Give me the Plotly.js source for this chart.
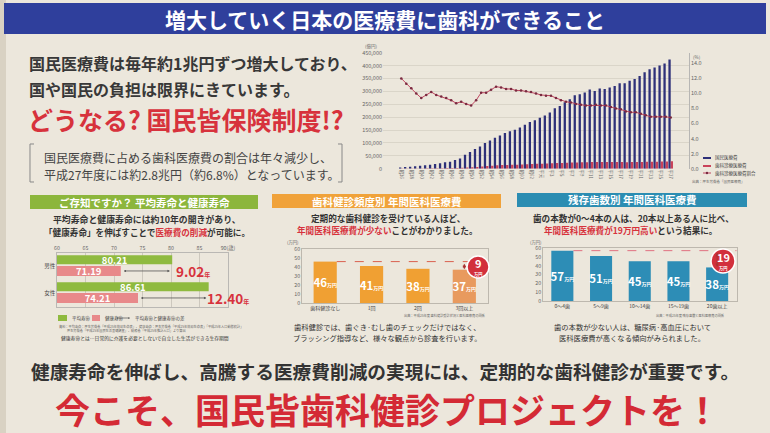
<!DOCTYPE html>
<html><head><meta charset="utf-8">
<script src="https://cdn.plot.ly/plotly-3.0.1.min.js"></script>
<style>html,body{margin:0;padding:0;background:#ece7dc;}#chart{width:770px;height:433px;}</style>
</head><body><div id="chart"></div>
<script>
// ===== DATA =====
const yearLabels = ["昭36","昭37","昭38","昭39","昭40","昭41","昭42","昭43","昭44","昭45","昭46","昭47","昭48","昭49","昭50","昭51","昭52","昭53","昭54","昭55","昭56","昭57","昭58","昭59","昭60","昭61","昭62","昭63","平元","平2","平3","平4","平5","平6","平7","平8","平9","平10","平11","平12","平13","平14","平15","平16","平17","平18","平19","平20","平21","平22","平23","平24","平25","平26","平27"];
const nationalCost = [5130,6132,7541,9389,11224,13002,15116,18016,20780,24962,27250,33994,39496,53786,64779,76684,85686,100042,109510,119805,128709,138659,145438,150932,160159,170690,180759,187554,197290,206074,218260,234784,243631,257908,269577,284542,289149,295823,307019,301418,310998,309507,315375,321111,331289,331276,341360,348084,360067,374202,385850,392117,400610,408071,423644];
const dentalCost = [616,693,807,939,1055,1274,1542,1766,1995,2346,2480,2957,3515,4626,5441,6978,8654,10104,11499,13059,13901,14698,15416,15697,16657,17581,18437,18755,19334,19989,21171,22070,22170,22954,23723,24471,24578,24849,25790,25621,26124,25999,25861,25689,26172,25177,25602,26106,26285,26568,26624,27056,27642,28157,28808];
const dentalShare = [12.0,11.3,10.7,10.0,9.4,9.8,10.2,9.8,9.6,9.4,9.1,8.7,8.9,8.6,8.4,9.1,10.1,10.1,10.5,10.9,10.8,10.6,10.6,10.4,10.4,10.3,10.2,10.0,9.8,9.7,9.7,9.4,9.1,8.9,8.8,8.6,8.5,8.4,8.4,8.5,8.4,8.4,8.2,8.0,7.9,7.6,7.5,7.5,7.3,7.1,6.9,6.9,6.9,6.9,6.8];

const sexes = ["男性","女性"];
const lifeAvg = [80.21, 86.61];
const lifeHealthy = [71.19, 74.21];
const lifeTicks = [60,65,70,75,80,85,90];
const lifeTickText = ["60","65","70","75","80","85","90(歳)"];

const checkupCats = ["歯科健診なし","1回","2回","3回以上"];
const checkupCost = [46,41,38,37];

const teethCats = ["0〜4歯","5〜9歯","10〜14歯","15〜19歯","20歯以上"];
const teethCost = [57,51,45,45,38];

// ===== HELPERS =====
const F = '"Noto Sans CJK JP","Noto Sans",sans-serif';
const W = 770, H = 433;
const px = x => x / W, py = y => 1 - y / H;
const RED = '#d7323c';
function txt(x, y, text, size, color, bold, anchor, extra) {
  return Object.assign({xref:'paper', yref:'paper', x:px(x), y:py(y), text:text, showarrow:false,
    font:{family:F, size:size, color:color, weight: bold ? 700 : 400},
    xanchor: anchor || 'center', yanchor:'middle'}, extra || {});
}
function rect(x0, y0, x1, y1, fill, extra) {
  return Object.assign({type:'rect', xref:'paper', yref:'paper', x0:px(x0), x1:px(x1), y0:py(y1), y1:py(y0),
    fillcolor:fill, line:{width:0}, layer:'below'}, extra || {});
}
function circ(cx, cy, r, fill) {
  return {type:'circle', xref:'paper', yref:'paper', x0:px(cx-r), x1:px(cx+r), y0:py(cy+r), y1:py(cy-r),
    fillcolor:fill, line:{color:'#ffffff', width:1.5}, layer:'above'};
}
function hline(x0, x1, y, color, w) {
  return {type:'line', xref:'paper', yref:'paper', x0:px(x0), x1:px(x1), y0:py(y), y1:py(y), line:{color:color, width:w}};
}
function pathP(pts, color) {
  const d = pts.map((p,i)=> (i?'L ':'M ') + px(p[0]).toFixed(5) + ' ' + py(p[1]).toFixed(5)).join(' ');
  return {type:'path', xref:'paper', yref:'paper', path:d, line:{color:color, width:1}};
}
const unitSpan = "<span style='font-size:5px'>万円</span>";

// ===== TRACES =====
const traces = [
  {type:'bar', name:'国民医療費', x:yearLabels, y:nationalCost, xaxis:'x', yaxis:'y',
   marker:{color:'#2e3079'}, width:0.46, offset:-0.46, showlegend:false},
  {type:'bar', name:'歯科診療医療費', x:yearLabels, y:dentalCost, xaxis:'x', yaxis:'y',
   marker:{color:'#c9435a'}, width:0.46, offset:0, showlegend:false},
  {type:'scatter', name:'歯科診療医療費割合', x:yearLabels, y:dentalShare, xaxis:'x', yaxis:'y2',
   mode:'lines+markers', line:{color:'#c04660', width:1}, marker:{size:2.6, color:'#7a2a40'}, showlegend:false},

  {type:'bar', name:'平均寿命', orientation:'h', y:sexes, x:lifeAvg.map(v=>v-60), base:60,
   xaxis:'x2', yaxis:'y3', width:0.34, offset:-0.42, marker:{color:'#8fba3f'},
   text:lifeAvg.map(v=>v.toFixed(2)), textposition:'inside', insidetextanchor:'middle', constraintext:'none', textangle:0,
   textfont:{family:F, size:9.5, color:'#ffffff', weight:700}, showlegend:false},
  {type:'bar', name:'健康寿命', orientation:'h', y:sexes, x:lifeHealthy.map(v=>v-60), base:60,
   xaxis:'x2', yaxis:'y3', width:0.37, offset:-0.02, marker:{color:'#e8898a'},
   text:lifeHealthy.map(v=>v.toFixed(2)), textposition:'inside', insidetextanchor:'middle', constraintext:'none', textangle:0,
   textfont:{family:F, size:9.5, color:'#ffffff', weight:700}, showlegend:false},

  {type:'bar', name:'年間医科医療費', x:checkupCats, y:checkupCost, xaxis:'x3', yaxis:'y4', width:0.5,
   marker:{color:['#f0a033','#f0a033','#f0a033','#e89a5e']},
   text:checkupCost.map(v=>v+unitSpan), textposition:'inside', insidetextanchor:'middle', textangle:0,
   constraintext:'none', textfont:{family:F, size:11.5, color:'#ffffff', weight:700}, showlegend:false},

  {type:'bar', name:'年間医科医療費', x:teethCats, y:teethCost, xaxis:'x4', yaxis:'y5', width:0.57,
   marker:{color:'#2d8db6'},
   text:teethCost.map(v=>v+unitSpan), textposition:'inside', insidetextanchor:'middle', textangle:0,
   constraintext:'none', textfont:{family:F, size:11.5, color:'#ffffff', weight:700}, showlegend:false}
];

// ===== AXES =====
const tf = s => ({family:F, size:s, color:'#666'});
const layout = {
  width:W, height:H, margin:{l:0,r:0,t:0,b:0}, showlegend:false,
  paper_bgcolor:'#ece7dc', plot_bgcolor:'rgba(0,0,0,0)', font:{family:F},
  xaxis:{domain:[px(383),px(689)], anchor:'y', type:'category', tickangle:90, tickfont:tf(4.3),
         showgrid:false, showline:false, ticks:'', fixedrange:true},
  yaxis:{domain:[py(168.7),py(52.7)], anchor:'x', range:[0,450000], dtick:50000, tickformat:',',
         tickfont:tf(5.5), showgrid:true, gridcolor:'#d3cdc1', gridwidth:0.7, zeroline:false, showline:false, ticks:''},
  yaxis2:{overlaying:'y', side:'right', anchor:'x', range:[0,15.42], tickvals:[0,2,4,6,8,10,12,14], tickformat:'.1f',
          tickfont:tf(5.5), showgrid:false, zeroline:false, showline:true, linecolor:'#aaa', linewidth:0.8, ticks:''},

  xaxis2:{domain:[px(57),px(228)], anchor:'y3', side:'top', range:[60,90], tickvals:lifeTicks, ticktext:lifeTickText,
          tickfont:tf(5.3), showgrid:true, gridcolor:'#b9b4aa', gridwidth:0.6, zeroline:false,
          showline:true, mirror:true, linecolor:'#999', linewidth:0.6, ticks:''},
  yaxis3:{domain:[py(307),py(253)], anchor:'x2', type:'category', range:[1.5,-0.5], tickfont:{family:F,size:5.5,color:'#444'},
          showgrid:false, showline:true, mirror:true, linecolor:'#999', linewidth:0.6, ticks:''},

  xaxis3:{domain:[px(302),px(488)], anchor:'y4', type:'category', tickfont:{family:F,size:5,color:'#444'},
          showline:true, mirror:true, linecolor:'#a9a49a', linewidth:0.7, ticks:''},
  yaxis4:{domain:[py(303),py(249)], anchor:'x3', range:[0,60], dtick:10, tickfont:tf(5.3),
          showgrid:false, zeroline:false, showline:true, mirror:true, linecolor:'#a9a49a', linewidth:0.7, ticks:''},

  xaxis4:{domain:[px(543),px(737)], anchor:'y5', type:'category', tickfont:{family:F,size:5,color:'#444'},
          showline:true, mirror:true, linecolor:'#a9a49a', linewidth:0.7, ticks:''},
  yaxis5:{domain:[py(301),py(248)], anchor:'x4', range:[0,60], dtick:10, tickfont:tf(5.3),
          showgrid:false, zeroline:false, showline:true, mirror:true, linecolor:'#a9a49a', linewidth:0.7, ticks:''}
};

// ===== SHAPES =====
layout.shapes = [
  rect(0,0,6,433,'#d9d2c3'),
  rect(4,3,766,34,'#2f3f9c'),
  rect(30,195,258,209,'#8cb63c'),
  rect(272,194,501,208,'#f0a23a'),
  rect(517,193,747,207,'#2b8db2'),
  pathP([[34,144],[30,144],[30,182],[34,182]], '#888'),
  pathP([[338,144],[342,144],[342,182],[338,182]], '#888'),
  hline(703,711,158,'#2e3079',2),
  hline(703,711,166,'#c9435a',2),
  hline(703,711,173,'#c04660',1),
  {type:'circle', xref:'paper', yref:'paper', x0:px(705.8), x1:px(708.2), y0:py(174.2), y1:py(171.8), fillcolor:'#7a2a40', line:{width:0}},
  rect(58,315,67,321,'#8fba3f',{layer:'above'}),
  rect(92,315,100,321,'#e8898a',{layer:'above'}),
  {type:'line', xref:'x3', yref:'y4', x0:0.25, x1:3.5, y0:46, y1:46, line:{color:'#d9604f', width:1, dash:'dash'}},
  {type:'line', xref:'x4', yref:'y5', x0:0.285, x1:4.5, y0:57, y1:57, line:{color:'#e07080', width:1, dash:'dash'}},
  circ(478,267,11,'#d2303c'),
  circ(723,261,12,'#d2303c')
];

// ===== ANNOTATIONS =====
const dark = '#383838';
layout.annotations = [
  txt(385,19,'増大していく日本の医療費に歯科ができること',21,'#ffffff',true),
  txt(27,63,'国民医療費は毎年約1兆円ずつ増大しており、',16,dark,true,'left'),
  txt(27,89,'国や国民の負担は限界にきています。',16,dark,true,'left'),
  txt(26,119,'どうなる? 国民皆保険制度!?',25,RED,true,'left'),
  txt(42,157,'国民医療費に占める歯科医療費の割合は年々減少し、',12,'#444',false,'left'),
  txt(42,175,'平成27年度には約2.8兆円（約6.8%）となっています。',12,'#444',false,'left'),

  txt(371,46,'(億円)',4.5,'#666'),
  txt(697,57,'(%)',4.5,'#666'),
  txt(713,158,'国民医療費',4.5,'#444',false,'left'),
  txt(713,166,'歯科診療医療費',4.5,'#444',false,'left'),
  txt(713,173,'歯科診療医療費割合',4.5,'#444',false,'left'),
  txt(747,181,'出典：厚生労働省「国民医療費」',3.5,'#666',false,'right'),

  txt(144,202,'ご存知ですか？ 平均寿命と健康寿命',10.5,'#ffffff',true),
  txt(147,219,'平均寿命と健康寿命には約10年の開きがあり、',8.9,'#333',true),
  txt(147,232,"「健康寿命」を伸ばすことで<span style='color:"+RED+"'>医療費の削減</span>が可能に。",8.6,'#333',true),
  {xref:'x2', yref:'y3', x:79.8, y:0.165, ax:71.7, ay:0.165, axref:'x2', ayref:'y3', text:'', showarrow:true,
   arrowhead:2, arrowsize:0.6, arrowwidth:0.8, arrowcolor:'#555', arrowside:'end+start', startarrowhead:6, startarrowsize:0.6},
  {xref:'x2', yref:'y3', x:86.2, y:1.165, ax:74.7, ay:1.165, axref:'x2', ayref:'y3', text:'', showarrow:true,
   arrowhead:2, arrowsize:0.6, arrowwidth:0.8, arrowcolor:'#555', arrowside:'end+start', startarrowhead:6, startarrowsize:0.6},
  {xref:'x2', yref:'y3', x:80.6, y:0.16, text:"9.02<span style='font-size:6px'>年</span>", showarrow:false,
   xanchor:'left', yanchor:'middle', font:{family:F, size:13.5, color:RED, weight:700}},
  {xref:'x2', yref:'y3', x:86.0, y:1.16, text:"12.40<span style='font-size:6px'>年</span>", showarrow:false,
   xanchor:'left', yanchor:'middle', font:{family:F, size:13.5, color:RED, weight:700}},
  txt(70,318,'平均寿命',4.5,'#444',false,'left'),
  txt(103,318,'健康寿命',4.5,'#444',false,'left'),
  {xref:'paper', yref:'paper', x:px(130), y:py(318), ax:px(116), ay:py(318), axref:'paper', ayref:'paper', text:'', showarrow:true,
   arrowhead:2, arrowsize:0.5, arrowwidth:0.7, arrowcolor:'#555', arrowside:'end+start', startarrowhead:6, startarrowsize:0.5},
  txt(133,318,'平均寿命と健康寿命の差',4.5,'#444',false,'left'),
  txt(57,326,'資料：平均寿命：厚生労働省「平成25年簡易生命表」、健康寿命：厚生労働省「平成25年簡易生命表」「平成25年人口動態統計」',3.2,'#666',false,'left'),
  txt(65,330,'厚生労働省「平成25年国民生活基礎調査」、総務省「平成25年推計人口」より算出',3.2,'#666',false,'left'),
  txt(145,338,'健康寿命とは…日常的に介護を必要としないで自立した生活ができる生存期間',4.8,'#333'),

  txt(387,201,'歯科健診頻度別 年間医科医療費',10.5,'#ffffff',true),
  txt(388,218,'定期的な歯科健診を受けている人ほど、',8.6,'#333',true),
  txt(388,230,"<span style='color:"+RED+"'>年間医科医療費が少ない</span>ことがわかりました。",8.6,'#333',true),
  txt(293,242,'(万円)',4.3,'#666'),
  txt(488,315,'出典：平成25年度 歯科健診受診状況と医科医療費の関係',3.2,'#666',false,'right'),
  {xref:'x3', yref:'y4', x:3, y:37.6, ax:3, ay:45.4, axref:'x3', ayref:'y4', text:'', showarrow:true,
   arrowhead:2, arrowsize:0.7, arrowwidth:1, arrowcolor:'#a33', arrowside:'end+start'},
  txt(478,262.5,'9',11,'#ffffff',true),
  txt(478,274,'万円',4.2,'#ffffff',true),
  txt(388,327,'歯科健診では、歯ぐき·むし歯のチェックだけではなく、',7.3,'#333'),
  txt(388,338,'ブラッシング指導など、様々な観点から診査を行います。',7.3,'#333'),

  txt(632,200,'残存歯数別 年間医科医療費',10.5,'#ffffff',true),
  txt(633,218,'歯の本数が0〜4本の人は、20本以上ある人に比べ、',8.6,'#333',true),
  txt(630,230,"<span style='color:"+RED+"'>年間医科医療費が19万円高い</span>という結果に。",8.6,'#333',true),
  txt(536,242,'(万円)',4.3,'#666'),
  txt(727,315,'出典：平成25年度 残存歯数と医科医療費の関係',3.2,'#666',false,'right'),
  {xref:'x4', yref:'y5', x:4, y:38.6, ax:4, ay:56.4, axref:'x4', ayref:'y5', text:'', showarrow:true,
   arrowhead:2, arrowsize:0.7, arrowwidth:1, arrowcolor:'#a33', arrowside:'end+start'},
  txt(723,256.5,'19',11,'#ffffff',true),
  txt(723,268.5,'万円',4.2,'#ffffff',true),
  txt(632,327,'歯の本数が少ない人は、糖尿病·高血圧において',7.3,'#333'),
  txt(632,338,'医科医療費が高くなる傾向がみられました。',7.3,'#333'),

  txt(385,370,'健康寿命を伸ばし、高騰する医療費削減の実現には、定期的な歯科健診が重要です。',18.7,'#333',true),
  txt(388,408,'今こそ、国民皆歯科健診プロジェクトを！',35,'#d42a35',true)
];

Plotly.newPlot('chart', traces, layout, {staticPlot:true, displayModeBar:false});
</script>
</body></html>
